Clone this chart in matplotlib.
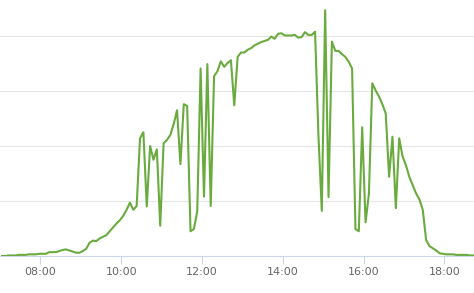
import matplotlib
matplotlib.use("Agg")
import matplotlib.pyplot as plt
import numpy as np

# ---- data ----
start_minute = 7 * 60 + 3      # first sample 07:03
step_minutes = 5               # sampling interval
values = [
    0.00, 0.00, 0.01, 0.01, 0.01, 0.02, 0.02, 0.02, 0.03, 0.03,
    0.03, 0.04, 0.04, 0.04, 0.07, 0.07, 0.07, 0.09, 0.11, 0.12,
    0.10, 0.08, 0.06, 0.06, 0.09, 0.13, 0.24, 0.28, 0.27, 0.32,
    0.35, 0.38, 0.45, 0.52, 0.59, 0.65, 0.73, 0.84, 0.97, 0.84,
    0.91, 2.14, 2.25, 0.90, 2.00, 1.75, 1.94, 0.55, 2.05, 2.11,
    2.20, 2.40, 2.65, 1.67, 2.76, 2.73, 0.45, 0.49, 0.81, 3.41,
    1.08, 3.49, 0.91, 3.27, 3.36, 3.54, 3.44, 3.51, 3.56, 2.74,
    3.62, 3.70, 3.70, 3.75, 3.78, 3.83, 3.86, 3.89, 3.91, 3.93,
    3.99, 3.95, 4.04, 4.05, 4.01, 4.01, 4.01, 4.02, 3.97, 3.98,
    4.07, 4.02, 4.02, 4.08, 2.20, 0.82, 4.47, 1.07, 3.90, 3.73,
    3.73, 3.67, 3.62, 3.53, 3.41, 0.49, 0.45, 2.34, 0.61, 1.13,
    3.14, 3.01, 2.90, 2.76, 2.59, 1.44, 2.17, 0.87, 2.14, 1.81,
    1.65, 1.44, 1.29, 1.14, 1.03, 0.84, 0.29, 0.18, 0.14, 0.10,
    0.05, 0.04, 0.03, 0.03, 0.03, 0.02, 0.02, 0.02, 0.02, 0.01, 0.01,
]
tick_hours = [8, 10, 12, 14, 16, 18]
tick_labels = ["08:00", "10:00", "12:00", "14:00", "16:00", "18:00"]
grid_values = [1, 2, 3, 4]

# ---- plot ----
minutes = start_minute + step_minutes * np.arange(len(values))
hours = minutes / 60.0

fig = plt.figure(figsize=(4.74, 2.93), dpi=100)
ax = fig.add_axes([0, 37 / 293, 1, 256 / 293])

ax.plot(hours, values, color="#6aab3f", linewidth=1.5, solid_joinstyle="round", zorder=3)

ax.set_xlim(7.0, 18.735)
ax.set_ylim(0, 4.655)

ax.set_yticks(grid_values)
ax.yaxis.grid(True, color="#e6e6e6", linewidth=0.8)
ax.tick_params(axis="y", left=False, labelleft=False)

ax.set_xticks(tick_hours)
ax.set_xticklabels(tick_labels)
ax.tick_params(axis="x", length=6, width=0.8, color="#ccd6eb", pad=2,
               labelsize=8, labelcolor="#666666")

for s in ("top", "left", "right"):
    ax.spines[s].set_visible(False)
ax.spines["bottom"].set_color("#ccd6eb")
ax.spines["bottom"].set_linewidth(0.8)
ax.set_axisbelow(True)

fig.savefig("out.png", dpi=100)
